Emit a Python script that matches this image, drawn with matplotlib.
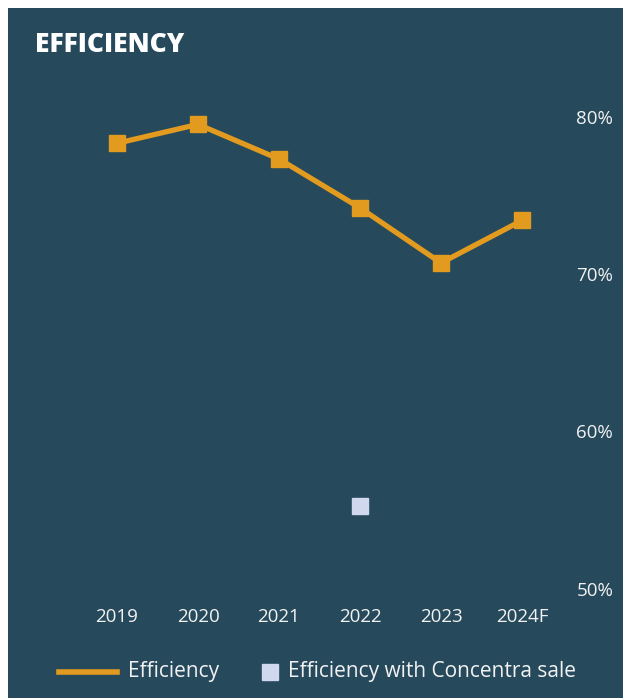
import matplotlib
matplotlib.use("Agg")
import matplotlib.pyplot as plt
import matplotlib.patches as patches
from matplotlib.lines import Line2D
from matplotlib.ticker import FuncFormatter

years = ["2019", "2020", "2021", "2022", "2023", "2024F"]
efficiency = [78.3, 79.5, 77.3, 74.2, 70.7, 73.4]
concentra_year = "2022"
concentra_value = 55.3
yticks = [50, 60, 70, 80]

BG = "#264a5c"
ORANGE = "#e29b1e"
LIGHT = "#cfd8ec"
TXT = "#f2f2f2"

plt.rcParams["font.family"] = ["Open Sans", "DejaVu Sans"]

W, H = 623, 698
fig = plt.figure(figsize=(W / 100, H / 100), dpi=100)
fig.patch.set_facecolor("white")

# dark panel behind everything
bg = fig.add_axes([0, 0, 1, 1], zorder=-10)
bg.axis("off")
bg.add_patch(patches.Rectangle((8 / W, 0), 1 - 8 / W, 1 - 8 / H,
                               transform=bg.transAxes, facecolor=BG,
                               edgecolor="none"))

ax = fig.add_axes([76.5 / W, 109 / H, (562.5 - 76.5) / W, (589 - 85) / H])
ax.set_facecolor("none")

x = list(range(len(years)))
ax.plot(x, efficiency, color=ORANGE, linewidth=3.8, marker="s",
        markersize=11.5, zorder=3)
ax.plot([years.index(concentra_year)], [concentra_value], linestyle="none",
        marker="s", markersize=11, color=LIGHT, zorder=3)

ax.set_xlim(-0.5, 5.5)
ax.set_ylim(50, 82)
ax.set_xticks(x)
ax.set_xticklabels(years)
ax.set_yticks(yticks)
ax.yaxis.set_major_formatter(FuncFormatter(lambda v, p: f"{v:.0f}%"))
ax.yaxis.tick_right()
ax.tick_params(axis="both", length=0, labelsize=13.5, colors=TXT)
ax.tick_params(axis="x", pad=14)
ax.tick_params(axis="y", pad=10)
for s in ax.spines.values():
    s.set_visible(False)

fig.text(35 / W, 1 - 45 / H, "EFFICIENCY", color="white", fontsize=19,
         fontweight=800, va="center", ha="left")

# legend drawn by hand
ly = 1 - 672 / H
fig.add_artist(Line2D([59 / W, 117 / W], [ly, ly], color=ORANGE, linewidth=4,
                      transform=fig.transFigure))
fig.text(128 / W, ly, "Efficiency", color=TXT, fontsize=15, va="center")
fig.add_artist(Line2D([269.5 / W], [ly], color=LIGHT, marker="s",
                      markersize=11, linestyle="none",
                      transform=fig.transFigure))
fig.text(288 / W, ly, "Efficiency with Concentra sale", color=TXT,
         fontsize=15, va="center")

fig.savefig("out.png", dpi=100, facecolor=fig.get_facecolor())
